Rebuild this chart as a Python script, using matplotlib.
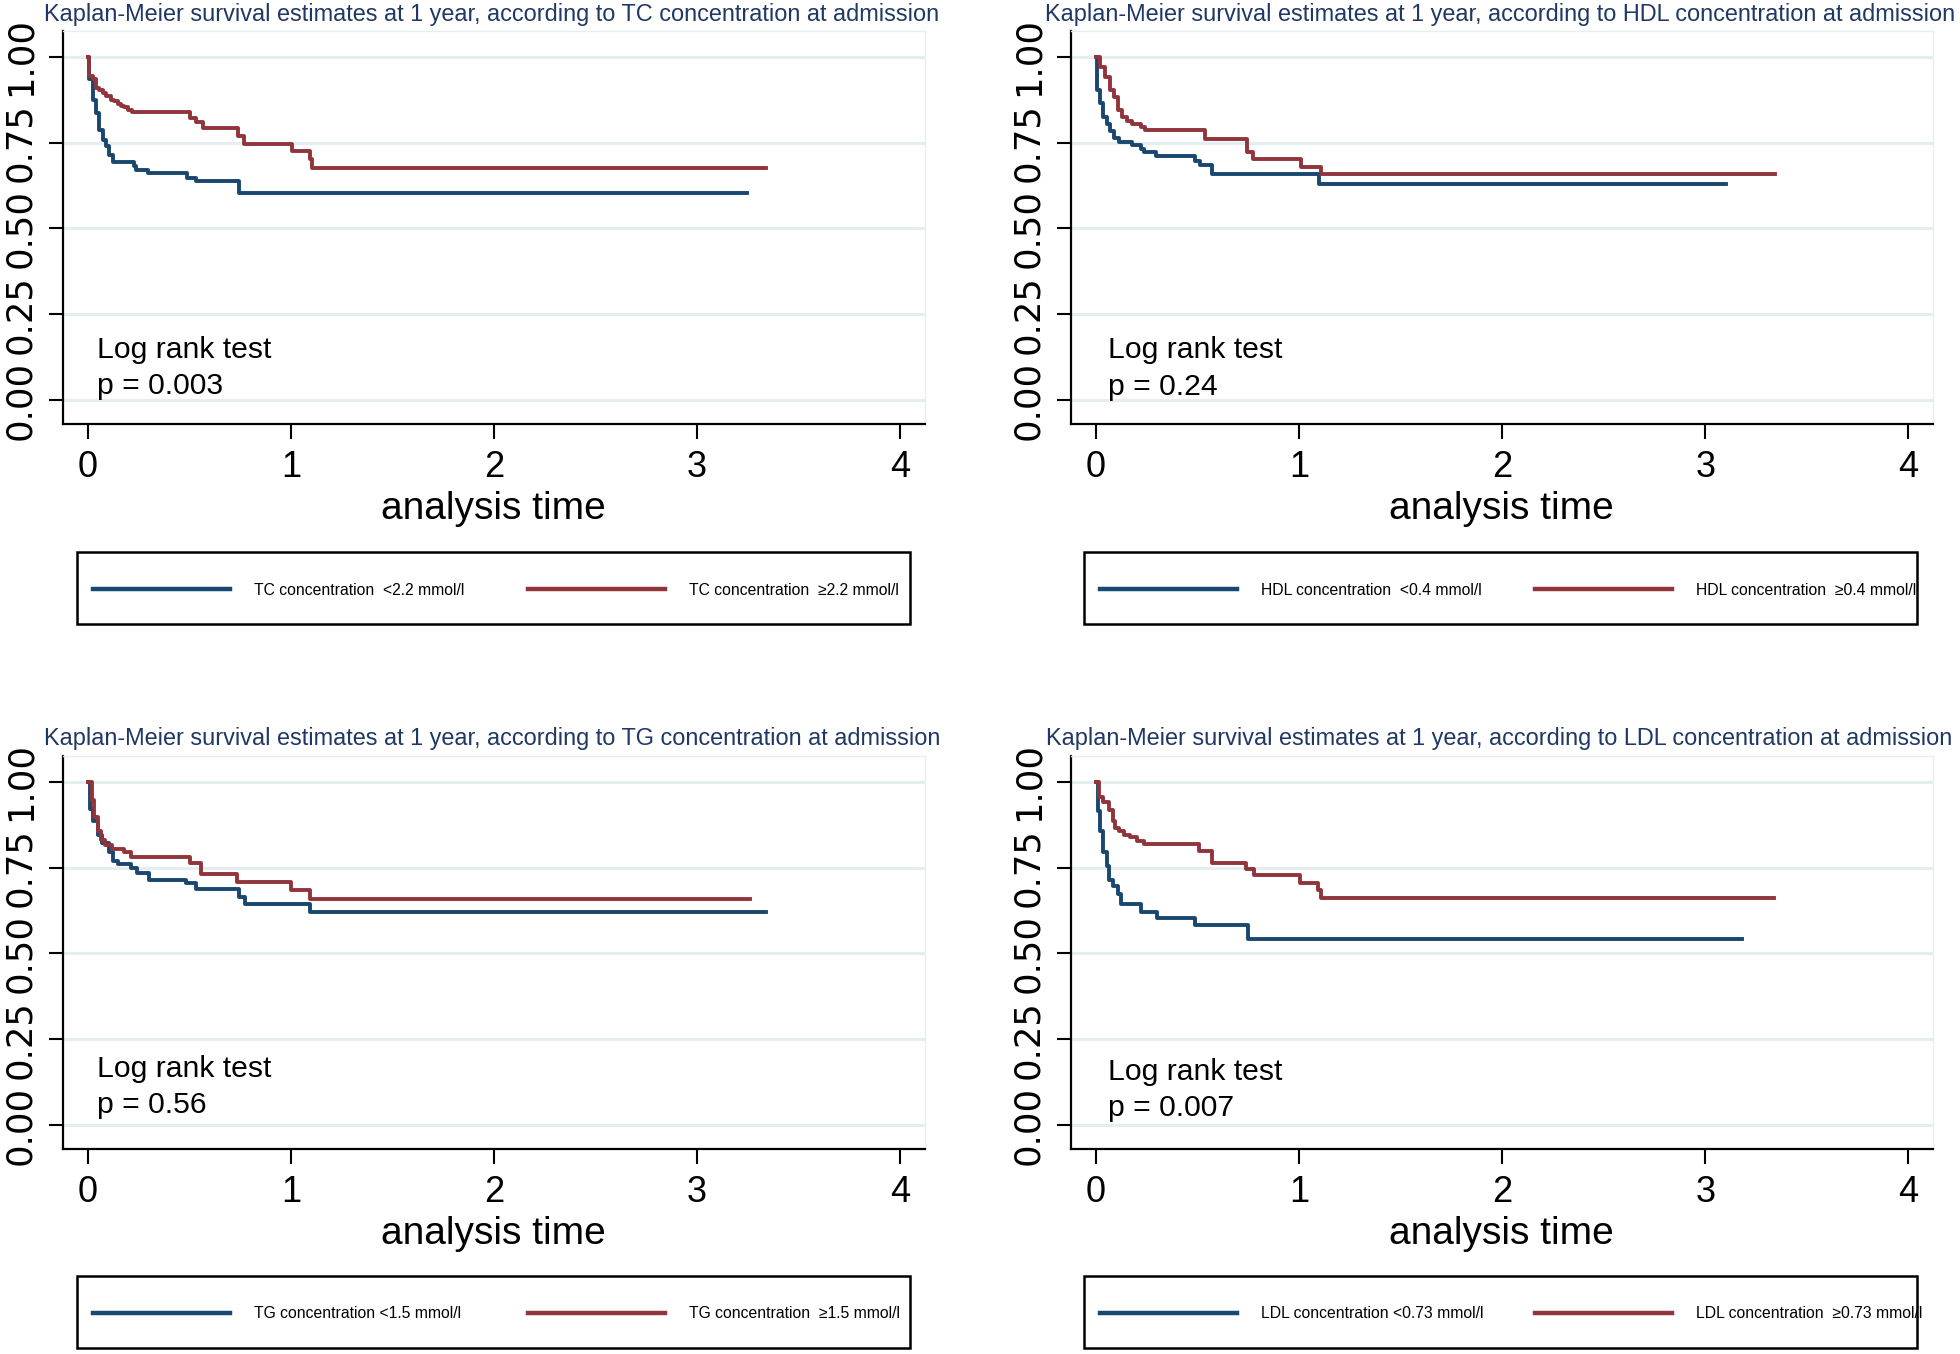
import matplotlib
matplotlib.use('Agg')
import matplotlib.pyplot as plt
from matplotlib import font_manager
from matplotlib.patches import Rectangle

plt.rcParams['font.family'] = ['Liberation Sans', 'DejaVu Sans']
installed = {f.name for f in font_manager.fontManager.ttflist}
NARROW = 'Liberation Sans Narrow' if 'Liberation Sans Narrow' in installed else 'Liberation Sans'
LEG_SIZE = 13.5 if NARROW == 'Liberation Sans Narrow' else 11.3

# ---------------- data ----------------
tc_low_t = [0, 0.007, 0.023, 0.04, 0.056, 0.072, 0.089, 0.105, 0.122, 0.225, 0.237, 0.294, 0.487, 0.53, 0.743, 3.245]
tc_low_s = [1.0, 0.934, 0.875, 0.836, 0.787, 0.758, 0.739, 0.714, 0.693, 0.683, 0.670, 0.660, 0.648, 0.638, 0.604, 0.604]
tc_high_t = [0, 0.007, 0.023, 0.039, 0.056, 0.072, 0.089, 0.113, 0.13, 0.146, 0.163, 0.179, 0.196, 0.217,
             0.503, 0.533, 0.566, 0.738, 0.771, 1.007, 1.095, 1.105, 3.337]
tc_high_s = [1.0, 0.943, 0.934, 0.909, 0.904, 0.895, 0.885, 0.875, 0.870, 0.863, 0.856, 0.854, 0.846, 0.838,
             0.821, 0.809, 0.792, 0.768, 0.746, 0.724, 0.701, 0.676, 0.676]

hdl_low_t = [0, 0.006, 0.022, 0.037, 0.052, 0.068, 0.089, 0.114, 0.175, 0.221, 0.237, 0.298, 0.489, 0.514, 0.569, 1.098, 3.105]
hdl_low_s = [1.0, 0.904, 0.864, 0.824, 0.804, 0.784, 0.764, 0.752, 0.743, 0.731, 0.723, 0.711, 0.697, 0.685, 0.658, 0.629, 0.629]
hdl_high_t = [0, 0.022, 0.043, 0.068, 0.089, 0.108, 0.129, 0.154, 0.175, 0.221, 0.243, 0.535, 0.744, 0.775, 1.012, 1.107, 3.342]
hdl_high_s = [1.0, 0.970, 0.940, 0.904, 0.884, 0.844, 0.824, 0.814, 0.804, 0.794, 0.786, 0.759, 0.723, 0.701, 0.680, 0.657, 0.657]

tg_low_t = [0, 0.009, 0.025, 0.049, 0.071, 0.102, 0.123, 0.148, 0.210, 0.240, 0.302, 0.481, 0.533, 0.743, 0.773, 1.094, 3.337]
tg_low_s = [1.0, 0.921, 0.886, 0.846, 0.821, 0.795, 0.770, 0.760, 0.750, 0.735, 0.715, 0.705, 0.688, 0.664, 0.644, 0.621, 0.621]
tg_high_t = [0, 0.018, 0.031, 0.049, 0.065, 0.086, 0.117, 0.179, 0.210, 0.502, 0.555, 0.733, 1.002, 1.094, 3.26]
tg_high_s = [1.0, 0.947, 0.896, 0.856, 0.831, 0.816, 0.805, 0.795, 0.780, 0.762, 0.732, 0.709, 0.684, 0.659, 0.659]

ldl_low_t = [0, 0.009, 0.022, 0.037, 0.052, 0.062, 0.083, 0.108, 0.123, 0.222, 0.302, 0.487, 0.748, 3.181]
ldl_low_s = [1.0, 0.916, 0.856, 0.795, 0.755, 0.715, 0.695, 0.674, 0.644, 0.621, 0.602, 0.582, 0.543, 0.543]
ldl_high_t = [0, 0.015, 0.037, 0.062, 0.083, 0.092, 0.114, 0.139, 0.169, 0.200, 0.237, 0.508, 0.570,
              0.739, 0.776, 1.007, 1.093, 1.108, 3.341]
ldl_high_s = [1.0, 0.957, 0.942, 0.917, 0.886, 0.866, 0.856, 0.846, 0.838, 0.826, 0.819, 0.797, 0.762,
              0.745, 0.728, 0.705, 0.684, 0.661, 0.661]

markers = ['TC', 'HDL', 'TG', 'LDL']
p_values = ['0.003', '0.24', '0.56', '0.007']
low_labels = ['TC concentration  <2.2 mmol/l', 'HDL concentration  <0.4 mmol/l',
              'TG concentration <1.5 mmol/l', 'LDL concentration <0.73 mmol/l']
high_labels = ['TC concentration  \u22652.2 mmol/l', 'HDL concentration  \u22650.4 mmol/l',
               'TG concentration  \u22651.5 mmol/l', 'LDL concentration  \u22650.73 mmol/l']

curves_low = [(tc_low_t, tc_low_s), (hdl_low_t, hdl_low_s), (tg_low_t, tg_low_s), (ldl_low_t, ldl_low_s)]
curves_high = [(tc_high_t, tc_high_s), (hdl_high_t, hdl_high_s), (tg_high_t, tg_high_s), (ldl_high_t, ldl_high_s)]

y_ticks = [0, 0.25, 0.5, 0.75, 1.0]
x_ticks = [0, 1, 2, 3, 4]

# ---------------- layout ----------------
W, H = 1960, 1354
BLUE = '#1a476f'
RED = '#90353b'
GRID = '#e4eef0'

fig = plt.figure(figsize=(W / 100, H / 100), dpi=100)
fig.patch.set_facecolor('white')

# (axes left px, axes top px, title x px, title y px, legend box left px, legend box top px, text x)
panels = [
    (62.5, 31, 44, 14.5, 77, 552, 0.045),
    (1070.6, 31, 1045, 14.5, 1084, 552, 0.06),
    (62.5, 756, 44, 738.5, 77, 1276, 0.045),
    (1070.6, 756, 1046, 738.5, 1084, 1276, 0.06),
]
text_y = [(0.145, 0.040), (0.145, 0.037), (0.164, 0.059), (0.153, 0.049)]
ax_w, ax_h = 862, 393
leg_w, leg_h = 833, 72
key_px = 137
key_offsets = [16, 451]   # where each legend key starts inside the box

for i, (axl, axt, tx, ty, lx, lt, txt_x) in enumerate(panels):
    ax = fig.add_axes([axl / W, 1 - (axt + ax_h) / H, ax_w / W, ax_h / H])
    ax.set_xlim(-0.125, 4.12)
    ax.set_ylim(-0.07, 1.075)

    for yv in y_ticks:
        ax.axhline(yv, color=GRID, lw=2.2, zorder=0)

    lt_, ls_ = curves_low[i]
    ht_, hs_ = curves_high[i]
    l1, = ax.step(lt_, ls_, where='post', color=BLUE, lw=2.8, label=low_labels[i])
    l2, = ax.step(ht_, hs_, where='post', color=RED, lw=2.8, label=high_labels[i])

    ax.set_yticks(y_ticks)
    ax.set_yticklabels(['%.2f' % v for v in y_ticks], rotation=90, va='center',
                       fontfamily='DejaVu Sans', fontsize=25.5)
    ax.set_xticks(x_ticks)
    ax.set_xticklabels([str(v) for v in x_ticks], fontsize=26)
    ax.tick_params(axis='y', length=10, width=1.5, pad=8)
    ax.tick_params(axis='x', length=11, width=1.5, pad=8)
    ax.set_xlabel('analysis time', fontsize=28, labelpad=4)

    for s in ['left', 'bottom']:
        ax.spines[s].set_linewidth(1.6)
        ax.spines[s].set_color('black')
    for s in ['top', 'right']:
        ax.spines[s].set_linewidth(1.0)
        ax.spines[s].set_color('#e6eef0')

    ax.text(txt_x, text_y[i][0], 'Log rank test', fontsize=21.7, va='center')
    ax.text(txt_x, text_y[i][1], 'p = ' + p_values[i], fontsize=21.7, va='center')

    fig.text(tx / W, 1 - ty / H,
             'Kaplan-Meier survival estimates at 1 year, according to %s concentration at admission' % markers[i],
             fontsize=16.9, color='#1f3864', va='center', ha='left')

    # legend: black box with the two keys placed in fixed columns (Stata style)
    fig.add_artist(Rectangle((lx / W, 1 - (lt + leg_h) / H), leg_w / W, leg_h / H,
                             transform=fig.transFigure, fill=False, ec='black', lw=1.8))
    mid_y = 1 - (lt + leg_h / 2 + 2) / H
    for j, handle in enumerate([l1, l2]):
        leg = ax.legend(handles=[handle], loc='center left',
                        bbox_to_anchor=((lx + key_offsets[j]) / W, mid_y),
                        bbox_transform=fig.transFigure, frameon=False,
                        borderpad=0, borderaxespad=0,
                        prop={'family': [NARROW, 'DejaVu Sans'], 'size': LEG_SIZE},
                        handlelength=key_px / (LEG_SIZE * 100 / 72), handletextpad=1.5)
        for h in leg.get_lines():
            h.set_linewidth(3.2)
        if j == 0:
            ax.add_artist(leg)

fig.savefig('out.png', dpi=100, facecolor='white')
